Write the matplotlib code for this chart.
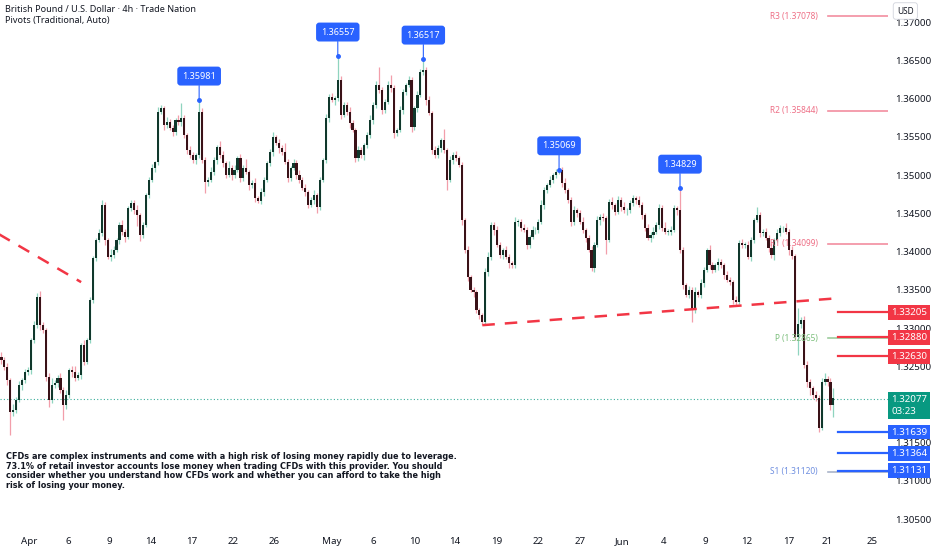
import numpy as np
import matplotlib
matplotlib.use("Agg")
import matplotlib.pyplot as plt
from matplotlib.ticker import FormatStrFormatter

plt.rcParams['font.family'] = ['Noto Sans', 'DejaVu Sans']

# GBPUSD 4h, prices in pips above 1.30000
BASE = 1.30
open0 = 262
close_pips = [
    258, 249, 232, 190, 193, 206, 225, 232, 242, 245,
    284, 304, 340, 304, 297, 236, 206, 225, 228, 235,
    219, 199, 212, 245, 242, 235, 238, 278, 256, 284,
    337, 392, 415, 424, 461, 415, 393, 395, 402, 415,
    435, 426, 419, 457, 463, 454, 448, 422, 435, 474,
    494, 509, 517, 583, 588, 565, 569, 562, 556, 572,
    569, 575, 552, 533, 526, 520, 526, 583, 520, 491,
    494, 504, 520, 537, 526, 516, 500, 509, 500, 507,
    522, 496, 509, 504, 487, 490, 470, 466, 478, 494,
    516, 530, 550, 542, 535, 530, 517, 496, 509, 516,
    500, 494, 483, 478, 461, 467, 474, 458, 494, 520,
    575, 602, 598, 601, 624, 579, 592, 583, 568, 559,
    522, 533, 526, 539, 552, 572, 592, 618, 611, 585,
    596, 618, 614, 555, 559, 585, 609, 618, 624, 563,
    588, 605, 635, 637, 598, 581, 533, 526, 535, 546,
    533, 494, 520, 526, 522, 513, 441, 402, 367, 350,
    347, 324, 317, 308, 373, 393, 435, 428, 409, 395,
    402, 393, 385, 382, 439, 439, 431, 428, 409, 419,
    428, 428, 439, 461, 480, 487, 494, 500, 504, 506,
    490, 480, 467, 439, 454, 450, 439, 428, 418, 402,
    378, 409, 441, 445, 444, 415, 465, 461, 452, 467,
    458, 454, 454, 463, 470, 467, 461, 448, 431, 418,
    422, 426, 435, 457, 431, 426, 426, 428, 457, 454,
    402, 356, 343, 350, 324, 347, 343, 359, 376, 402,
    382, 376, 382, 386, 382, 369, 363, 360, 337, 334,
    411, 409, 409, 393, 415, 441, 448, 424, 426, 418,
    405, 395, 415, 424, 431, 431, 426, 402, 394, 288,
    305, 310, 252, 229, 221, 212, 208, 169, 229, 233,
    229, 199, 208,
]
upper_wick = [
    6, 4, 5, 3, 8, 4, 6, 3, 5, 4,
    3, 5, 6, 8, 4, 3, 5, 9, 4, 3,
    6, 4, 7, 3, 5, 8, 4, 2, 6, 3,
    4, 2, 3, 5, 6, 4, 3, 8, 5, 3,
    4, 6, 3, 2, 5, 4, 7, 3, 4, 2,
    3, 5, 2, 6, 4, 3, 7, 5, 4, 3,
    6, 19, 4, 3, 5, 4, 3, 15.1, 5, 4,
    3, 6, 4, 3, 8, 5, 3, 9, 4, 6,
    3, 5, 4, 12, 3, 4, 6, 3, 5, 4,
    3, 4, 6, 3, 5, 4, 12, 4, 3, 5,
    4, 6, 3, 5, 3, 4, 6, 3, 4, 3,
    5, 4, 6, 3, 31.7, 5, 4, 3, 6, 4,
    3, 5, 4, 3, 4, 6, 3, 5, 23, 4,
    3, 5, 13, 4, 3, 6, 4, 3, 5, 4,
    3, 5, 4, 14.7, 4, 6, 3, 5, 4, 3,
    14, 3, 5, 4, 6, 3, 4, 3, 5, 2,
    4, 3, 2, 3, 5, 6, 4, 3, 5, 4,
    3, 5, 4, 3, 6, 4, 3, 5, 4, 3,
    5, 4, 3, 6, 4, 3, 5, 3, 4, 0.9,
    4, 6, 3, 4, 5, 3, 4, 6, 3, 4,
    5, 3, 6, 4, 5, 3, 4, 6, 3, 5,
    4, 7, 3, 5, 4, 3, 6, 4, 3, 5,
    4, 6, 3, 5, 4, 7, 3, 5, 4, 3,
    28.9, 4, 3, 5, 4, 6, 3, 5, 4, 3,
    6, 4, 3, 5, 4, 3, 6, 4, 3, 5,
    4, 6, 3, 5, 4, 3, 10, 4, 3, 5,
    4, 6, 3, 5, 4, 3, 6, 4, 5, 3,
    21, 4, 6, 5, 4, 3, 6, 4, 5, 8,
    4, 5, 13,
]
lower_wick = [
    5, 4, 6, 30, 5, 4, 3, 6, 4, 3,
    5, 3, 4, 6, 3, 5, 9, 4, 3, 5,
    4, 19, 5, 3, 6, 4, 3, 5, 4, 3,
    3, 4, 5, 3, 4, 6, 3, 5, 4, 3,
    5, 4, 6, 3, 4, 5, 14, 8, 4, 3,
    4, 3, 5, 4, 3, 6, 4, 3, 5, 4,
    3, 5, 4, 6, 3, 4, 5, 3, 4, 14,
    5, 3, 4, 6, 3, 5, 4, 3, 6, 4,
    3, 5, 4, 3, 6, 4, 5, 3, 4, 5,
    3, 4, 5, 3, 6, 4, 3, 5, 4, 3,
    5, 4, 3, 6, 4, 3, 5, 8, 4, 3,
    4, 5, 3, 6, 4, 5, 3, 4, 6, 3,
    5, 4, 3, 6, 4, 3, 5, 4, 3, 5,
    4, 3, 5, 6, 4, 3, 5, 4, 3, 6,
    4, 5, 3, 4, 6, 3, 5, 4, 3, 5,
    4, 13, 3, 5, 4, 3, 6, 4, 5, 3,
    6, 4, 5, 4, 3, 5, 4, 6, 3, 4,
    5, 3, 6, 4, 3, 5, 4, 3, 6, 4,
    3, 5, 4, 3, 6, 4, 3, 5, 4, 3,
    5, 4, 3, 6, 4, 5, 3, 4, 6, 3,
    4, 5, 3, 6, 4, 18, 3, 5, 4, 3,
    5, 4, 6, 3, 4, 5, 3, 6, 4, 3,
    5, 4, 3, 6, 4, 3, 5, 4, 3, 6,
    4, 5, 3, 4, 16, 5, 3, 4, 6, 3,
    5, 4, 3, 6, 4, 5, 3, 4, 6, 5,
    3, 4, 5, 3, 6, 4, 3, 5, 4, 3,
    5, 4, 6, 3, 4, 5, 3, 6, 4, 4,
    23, 5, 4, 6, 8, 5, 4, 5, 3, 4,
    5, 6, 15,
]

# swing highs marked with blue callouts (bar index)
pivot_bars = [67, 114, 143, 189, 230]

# pivot points (traditional)
pivot_names = ['R3', 'R2', 'R1', 'P', 'S1']
pivot_levels = [1.37078, 1.35844, 1.34099, 1.32865, 1.31120]
pivot_colors = ['#f28da0', '#f28da0', '#f28da0', '#9ccc9c', '#a9b4c9']
pivot_text_colors = ['#ee6f86', '#ee6f86', '#ee6f86', '#7cbf7c', '#6f8fe0']

resist_levels = [1.33205, 1.32880, 1.32630]
support_levels = [1.31639, 1.31364, 1.31131]
last_price = 1.32077
countdown = '03:23'

# price scale ticks (1.32000 sits under the last price tag)
price_ticks = [1.370, 1.365, 1.360, 1.355, 1.350, 1.345, 1.340, 1.335,
               1.330, 1.325, 1.315, 1.310, 1.305]

# dashed trend lines: (bar, price)
trend_left = [(-1, 1.3423), (27, 1.3360)]
neckline = [(163, 1.33037), (283.7, 1.3339)]

tick_pos = [9.5, 22.5, 36.5, 50.5, 64.5, 78.5, 92.5, 112, 126, 140, 153.5,
            168, 182, 196, 210.5, 224.5, 238.5, 252.5, 267, 280, 295]
tick_lab = ['Apr', '6', '9', '14', '17', '22', '26', 'May', '6', '10', '14',
            '19', '22', '27', 'Jun', '4', '9', '12', '17', '21', '25']

disclaimer = ("CFDs are complex instruments and come with a high risk of losing money rapidly due to leverage.\n"
              "73.1% of retail investor accounts lose money when trading CFDs with this provider. You should\n"
              "consider whether you understand how CFDs work and whether you can afford to take the high\n"
              "risk of losing your money.")

closes = BASE + np.array(close_pips) / 1e4
opens = np.r_[BASE + open0 / 1e4, closes[:-1]]
highs = np.maximum(opens, closes) + np.array(upper_wick) / 1e4
lows = np.minimum(opens, closes) - np.array(lower_wick) / 1e4
x = np.arange(len(closes))
rising = closes >= opens

fig = plt.figure(figsize=(9.32, 5.5), dpi=100)
ax = fig.add_axes([0, 20 / 550, 888 / 932, 530 / 550])
ax.set_xlim(-0.5, 300.5)
ax.set_ylim(1.30358, 1.3729)

wick_col = np.where(rising, '#8fd4bf', '#f29eaa')
body_col = np.where(rising, '#10382c', '#3a1218')
ax.vlines(x, lows, highs, colors=wick_col, lw=0.9, zorder=2)
ax.bar(x, np.maximum(np.abs(closes - opens), 0.00003), bottom=np.minimum(opens, closes),
       width=0.72, color=body_col, lw=0, zorder=3)

# last price dotted line
ax.axhline(last_price, color='#089981', ls=(0, (1, 2)), lw=0.8, alpha=0.8, zorder=1)

# trend lines
for tl in (trend_left, neckline):
    ax.plot([p[0] for p in tl], [p[1] for p in tl], color='#f23645', lw=1.8,
            ls=(0, (5, 4)), zorder=4)

# pivot levels
for name, lvl, c, tc in zip(pivot_names, pivot_levels, pivot_colors, pivot_text_colors):
    ax.plot([280, 300.5], [lvl, lvl], color=c, lw=1.2, zorder=4)
    ax.annotate(f'{name} ({lvl:.5f})', xy=(280, lvl), xytext=(-10, 0), textcoords='offset pixels',
                ha='right', va='center', fontsize=6, color=tc, zorder=5)

# drawn support / resistance lines + axis tags
for lvls, c in ((resist_levels, '#f23645'), (support_levels, '#2962ff')):
    for lvl in lvls:
        ax.plot([283.7, 300.5], [lvl, lvl], color=c, lw=1.6, zorder=5)
        ax.annotate(f'{lvl:.5f}', xy=(1, lvl), xycoords=('axes fraction', 'data'),
                    xytext=(3, 0), textcoords='offset pixels', ha='left', va='center',
                    fontsize=7, color='white', annotation_clip=False, zorder=6,
                    bbox=dict(boxstyle='square,pad=0.3', fc=c, ec='none'))

ax.annotate(f'{last_price:.5f}\n{countdown}', xy=(1, last_price), xycoords=('axes fraction', 'data'),
            xytext=(3, -7), textcoords='offset pixels', ha='left', va='center',
            fontsize=7, color='white', linespacing=1.35, annotation_clip=False, zorder=6,
            bbox=dict(boxstyle='square,pad=0.3', fc='#089981', ec='none'))

# swing high callouts
for b in pivot_bars:
    h = highs[b]
    ax.plot(b, h, 'o', ms=2.5, color='#2962ff', zorder=6)
    ax.annotate(f'{h:.5f}', xy=(b, h), xytext=(0, 24), textcoords='offset pixels',
                ha='center', va='center', fontsize=6.5, color='white', fontweight='semibold',
                zorder=7,
                bbox=dict(boxstyle='round,pad=0.55,rounding_size=0.35', fc='#2962ff', ec='none'),
                arrowprops=dict(arrowstyle='-', color='#2962ff', lw=0.8, shrinkA=0, shrinkB=0))

# axes styling
for s in ax.spines.values():
    s.set_visible(False)
ax.yaxis.tick_right()
ax.set_yticks(price_ticks)
ax.yaxis.set_major_formatter(FormatStrFormatter('%.5f'))
ax.tick_params(axis='y', length=0, pad=5, labelsize=7, labelcolor='#131722')
ax.set_xticks(tick_pos)
ax.set_xticklabels(tick_lab)
ax.tick_params(axis='x', length=0, pad=5, labelsize=7, labelcolor='#131722')
for t in ax.get_xticklabels():
    if t.get_text() in ('Apr', 'May', 'Jun'):
        t.set_fontweight('bold')

# header + disclaimer
fig.text(5 / 932, 1 - 10 / 550, 'British Pound / U.S. Dollar · 4h · Trade Nation',
         fontsize=6.5, fontweight='semibold', color='#131722', va='center')
fig.text(5 / 932, 1 - 21 / 550, 'Pivots (Traditional, Auto)', fontsize=6.5, color='#131722', va='center')
fig.text(897 / 932, 1 - 11 / 550, 'USD', fontsize=6, color='#131722', va='center',
         bbox=dict(boxstyle='round,pad=0.45,rounding_size=0.3', fc='white', ec='#d1d4dc', lw=0.6))
fig.text(6 / 932, 1 - 452 / 550, disclaimer, fontsize=5.85, fontweight='bold', color='#131722',
         va='top', linespacing=1.1, family=['DejaVu Sans'])

fig.savefig('out.png', dpi=100)
